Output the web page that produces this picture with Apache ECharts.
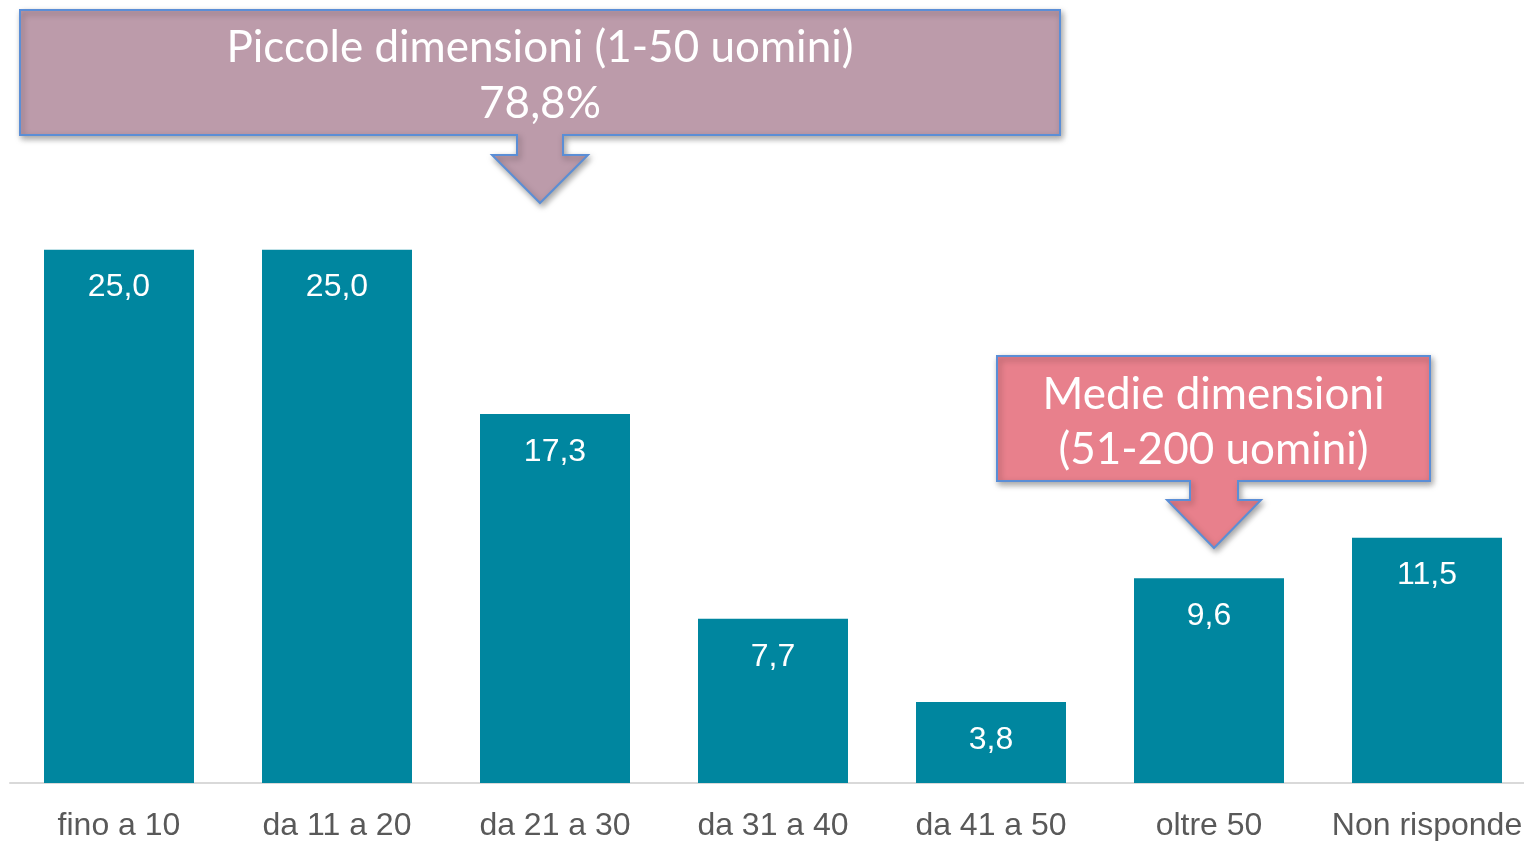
<!DOCTYPE html>
<html><head><meta charset="utf-8">
<script src="https://cdn.jsdelivr.net/npm/echarts@6/dist/echarts.min.js"></script>
<style>html,body{margin:0;padding:0;background:#fff;overflow:hidden}#c{width:1536px;height:841px}</style>
</head><body><div id="c"></div>
<script>
const categories = ['fino a 10','da 11 a 20','da 21 a 30','da 31 a 40','da 41 a 50','oltre 50','Non risponde'];
const values = [25.0, 25.0, 17.3, 7.7, 3.8, 9.6, 11.5];
const callout1 = ['Piccole dimensioni (1-50 uomini)', '78,8%'];
const callout2 = ['Medie dimensioni', '(51-200 uomini)'];

function callout(x0, x1, y0, y1, sx0, sx1, hx0, hx1, hy, tipY, fill, lines, lineYs) {
  const cx = (hx0 + hx1) / 2;
  const pts = [[x0,y0],[x1,y0],[x1,y1],[sx1,y1],[sx1,hy],[hx1,hy],[cx,tipY],[hx0,hy],[sx0,hy],[sx0,y1],[x0,y1]];
  const els = [{
    type:'polygon', shape:{points:pts},
    style:{fill:fill, stroke:'#5b8ed6', lineWidth:2, shadowBlur:6, shadowOffsetX:2, shadowOffsetY:3, shadowColor:'rgba(0,0,0,0.35)'}
  }];
  const tx = (x0 + x1) / 2;
  lines.forEach((t,i)=>els.push({
    type:'text', x: tx, y: lineYs[i],
    style:{text:t, fill:'#fff', font:'44px Lato', textAlign:'center', textVerticalAlign:'middle'}
  }));
  return els;
}

const chart = echarts.init(document.getElementById('c'));
chart.setOption({
  animation:false,
  grid:{left:10, right:0, top:143, bottom:58, containLabel:false, outerBoundsMode:'none'},
  xAxis:{type:'category', data:categories,
    axisLine:{lineStyle:{color:'#d9d9d9', width:2}}, axisTick:{show:false},
    axisLabel:{interval:0, color:'#595959', fontSize:32, fontFamily:'Liberation Sans', margin:27}},
  yAxis:{type:'value', min:0, max:30, show:false, splitLine:{show:false}},
  series:[{type:'bar', data:values, barWidth:150, itemStyle:{color:'#00869F'},
    label:{show:true, position:'insideTop', distance:22, color:'#fff', fontSize:32, fontFamily:'Liberation Sans',
      formatter:p=>p.value.toFixed(1).replace('.',',')}}],
  graphic: [
    ...callout(20,1060,10,135,517,563,492,588,155,203,'#BC9BAA',callout1,[48,104]),
    ...callout(997,1430,356,481,1190,1238,1167,1261,500,548,'#E8808C',callout2,[395,450])
  ]
});
</script></body></html>
